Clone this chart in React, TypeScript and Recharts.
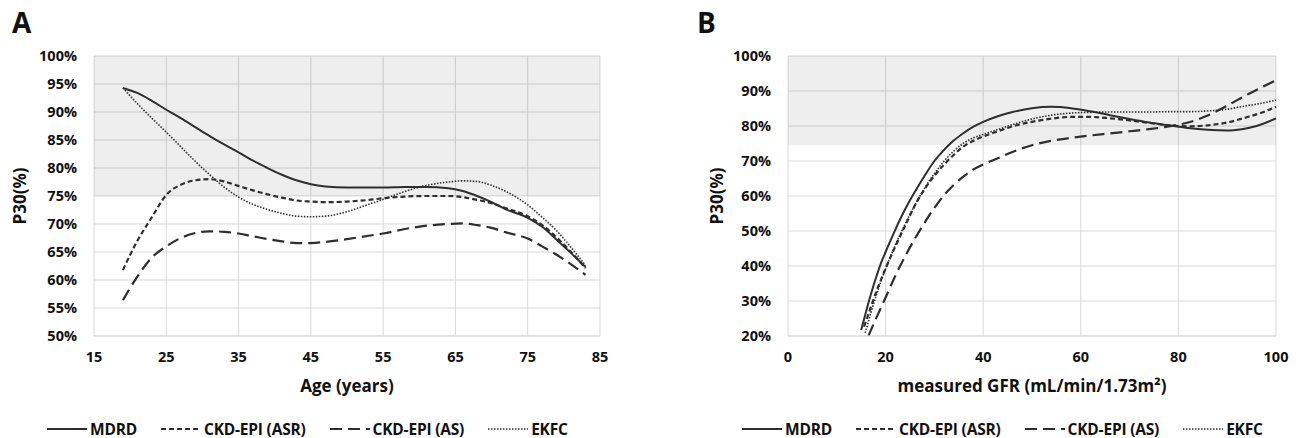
import React from 'react';
import { LineChart, Line, XAxis, YAxis, CartesianGrid, ReferenceArea } from 'recharts';

// Panel A: P30 by age
const ages = [19, 21, 23, 25, 27, 29, 31, 33, 35, 37, 39, 41, 43, 45, 47, 50, 53, 55, 58, 61, 64, 66, 68, 70, 72, 75, 77, 79, 81, 83];
const ageMdrd = [94.3, 93.4, 92.0, 90.4, 88.9, 87.3, 85.7, 84.2, 82.8, 81.3, 80.0, 78.8, 77.8, 77.1, 76.7, 76.5, 76.5, 76.5, 76.6, 76.6, 76.4, 75.9, 75.0, 73.9, 72.6, 71.1, 69.5, 67.2, 64.8, 62.3];
const ageAsr = [61.8, 67.0, 71.2, 75.2, 77.0, 77.8, 78.0, 77.6, 76.8, 76.0, 75.3, 74.7, 74.2, 74.0, 73.9, 74.0, 74.3, 74.6, 74.9, 75.0, 75.0, 74.8, 74.3, 73.7, 72.8, 71.4, 69.8, 67.6, 65.0, 62.1];
const ageAs = [56.4, 60.6, 64.0, 66.0, 67.5, 68.4, 68.7, 68.6, 68.3, 67.8, 67.3, 66.9, 66.6, 66.6, 66.8, 67.3, 67.9, 68.3, 69.1, 69.7, 70.0, 70.1, 69.8, 69.3, 68.5, 67.4, 66.0, 64.5, 62.8, 60.9];
const ageEkfc = [94.3, 91.5, 88.9, 86.4, 83.8, 81.2, 78.8, 76.6, 74.8, 73.5, 72.6, 71.9, 71.4, 71.3, 71.4, 72.2, 73.5, 74.4, 75.8, 76.9, 77.5, 77.7, 77.6, 76.9, 75.8, 73.4, 71.2, 68.8, 65.8, 62.6];
const ageTicks = [15, 25, 35, 45, 55, 65, 75, 85];
const ageP30Ticks = [50, 55, 60, 65, 70, 75, 80, 85, 90, 95, 100];

// Panel B: P30 by measured GFR, [gfr, p30]
const gfrMdrd = [[15, 21.7], [16, 27.0], [17, 32.0], [18, 36.5], [19, 40.6], [20, 44.0], [22, 50.4], [24, 56.2], [26, 61.2], [28, 65.8], [30, 70.0], [32, 73.2], [34, 75.9], [36, 78.0], [38, 79.8], [40, 81.2], [43, 82.8], [46, 84.0], [50, 85.1], [54, 85.5], [58, 85.1], [62, 84.2], [66, 83.1], [70, 82.0], [74, 81.0], [78, 80.2], [82, 79.4], [86, 78.9], [90, 78.7], [93, 79.1], [96, 80.0], [100, 82.2]];
const gfrAsr = [[15.6, 22.7], [16, 24.3], [17, 28.4], [18, 32.3], [19, 35.9], [20, 39.3], [22, 45.6], [24, 51.5], [26, 57.3], [28, 62.0], [30, 65.8], [32, 69.0], [34, 71.8], [36, 74.2], [38, 75.8], [40, 77.0], [43, 78.5], [46, 79.9], [50, 81.2], [54, 82.1], [58, 82.6], [62, 82.6], [66, 82.2], [70, 81.6], [74, 80.9], [78, 80.2], [82, 79.9], [86, 80.2], [90, 81.0], [94, 82.5], [97, 83.8], [100, 85.5]];
const gfrAs = [[16.5, 20.1], [17.5, 23.3], [18.5, 26.4], [20, 31.0], [22, 37.2], [24, 42.8], [26, 47.8], [28, 52.4], [30, 56.6], [32, 60.3], [34, 63.2], [36, 65.6], [38, 67.6], [40, 69.0], [43, 70.8], [46, 72.6], [50, 74.5], [54, 75.8], [58, 76.6], [62, 77.3], [66, 77.9], [70, 78.5], [74, 79.1], [78, 79.9], [82, 81.0], [86, 83.0], [90, 85.8], [94, 88.9], [97, 91.0], [100, 93.1]];
const gfrEkfc = [[15.8, 20.9], [16, 21.8], [17, 26.7], [18, 31.2], [19, 35.4], [20, 39.2], [22, 46.0], [24, 52.0], [26, 57.4], [28, 62.2], [30, 66.4], [32, 70.0], [34, 72.9], [36, 75.1], [38, 76.6], [40, 77.6], [43, 79.0], [46, 80.4], [50, 82.0], [54, 83.1], [58, 83.7], [62, 83.9], [66, 84.0], [70, 84.0], [74, 84.0], [78, 84.1], [82, 84.1], [86, 84.3], [90, 84.8], [94, 85.8], [97, 86.5], [100, 87.4]];
const gfrTicks = [0, 20, 40, 60, 80, 100];
const gfrP30Ticks = [20, 30, 40, 50, 60, 70, 80, 90, 100];

const seriesNames = ['MDRD', 'CKD-EPI (ASR)', 'CKD-EPI (AS)', 'EKFC'];

const ageTable = ages.map((age, i) => ({
  age,
  mdrd: ageMdrd[i],
  asr: ageAsr[i],
  as: ageAs[i],
  ekfc: ageEkfc[i],
}));

const toPoints = (pts: number[][]) => pts.map(([x, y]) => ({ x, y }));

const LINE = '#2e2e2e';
const GRID = '#d9d9d9';

const lineStyles = [
  { stroke: LINE, strokeWidth: 2 },
  { stroke: LINE, strokeWidth: 2.2, strokeDasharray: '5 3' },
  { stroke: LINE, strokeWidth: 2.2, strokeDasharray: '12 6' },
  { stroke: LINE, strokeWidth: 1.6, strokeDasharray: '1.5 1.5' },
];

const tickStyle = { fill: '#111', fontSize: 14.5, fontWeight: 700 };
const pct = (v: number) => `${v}%`;

function Legend({ left }: { left: number }) {
  return (
    <div style={{ position: 'absolute', left, top: 421, height: 16, lineHeight: '16px', display: 'flex', alignItems: 'center', gap: 24, fontSize: 15.5, fontWeight: 700, whiteSpace: 'nowrap', letterSpacing: -0.2 }}>
      {seriesNames.map((name, i) => (
        <div key={name} style={{ display: 'flex', alignItems: 'center', gap: 3 }}>
          <svg width={40} height={6}>
            <line x1={0} y1={3} x2={40} y2={3} {...lineStyles[i]} />
          </svg>
          <span>{name}</span>
        </div>
      ))}
    </div>
  );
}

function PanelLabel({ text, left }: { text: string; left: number }) {
  return (
    <div style={{ position: 'absolute', left, top: 8, fontSize: 28, fontWeight: 700, lineHeight: '28px' }}>{text}</div>
  );
}

function AgeChart() {
  return (
    <LineChart width={640} height={438} data={ageTable} margin={{ top: 56, right: 40, bottom: 42, left: 0 }}>
      <ReferenceArea y1={75} y2={100} fill="#000" fillOpacity={0.065} stroke="none" />
      <CartesianGrid stroke={GRID} />
      <XAxis
        dataKey="age"
        type="number"
        domain={[15, 85]}
        ticks={ageTicks}
        height={60}
        axisLine={{ stroke: GRID }}
        tickLine={false}
        tickSize={0}
        tickMargin={16}
        tick={tickStyle}
        label={{ value: 'Age (years)', position: 'insideBottom', offset: 4, fill: '#111', fontSize: 17, fontWeight: 700 }}
      />
      <YAxis
        type="number"
        domain={[50, 100]}
        ticks={ageP30Ticks}
        width={94}
        axisLine={false}
        tickLine={false}
        tickSize={0}
        tickMargin={17}
        tick={tickStyle}
        tickFormatter={pct}
        label={{ value: 'P30(%)', angle: -90, position: 'insideLeft', offset: 20, fill: '#111', fontSize: 17, fontWeight: 700, style: { textAnchor: 'middle' } }}
      />
      {['mdrd', 'asr', 'as', 'ekfc'].map((key, i) => (
        <Line key={key} dataKey={key} name={seriesNames[i]} type="monotone" dot={false} isAnimationActive={false} {...lineStyles[i]} />
      ))}
    </LineChart>
  );
}

function GfrChart() {
  const series = [gfrMdrd, gfrAsr, gfrAs, gfrEkfc];
  return (
    <LineChart width={664} height={438} margin={{ top: 56, right: 28, bottom: 42, left: 0 }}>
      <ReferenceArea y1={74.5} y2={100} fill="#000" fillOpacity={0.065} stroke="none" />
      <CartesianGrid stroke={GRID} />
      <XAxis
        dataKey="x"
        type="number"
        domain={[0, 100]}
        ticks={gfrTicks}
        height={60}
        axisLine={{ stroke: GRID }}
        tickLine={false}
        tickSize={0}
        tickMargin={16}
        tick={tickStyle}
        label={{ value: 'measured GFR (mL/min/1.73m²)', position: 'insideBottom', offset: 4, fill: '#111', fontSize: 17, fontWeight: 700 }}
      />
      <YAxis
        type="number"
        domain={[20, 100]}
        ticks={gfrP30Ticks}
        width={148}
        axisLine={false}
        tickLine={false}
        tickSize={0}
        tickMargin={17}
        tick={tickStyle}
        tickFormatter={pct}
        label={{ value: 'P30(%)', angle: -90, position: 'insideLeft', offset: 77, fill: '#111', fontSize: 17, fontWeight: 700, style: { textAnchor: 'middle' } }}
      />
      {series.map((pts, i) => (
        <Line key={seriesNames[i]} data={toPoints(pts)} dataKey="y" name={seriesNames[i]} type="monotone" dot={false} isAnimationActive={false} {...lineStyles[i]} />
      ))}
    </LineChart>
  );
}

export default function App() {
  return (
    <div style={{ position: 'absolute', left: 0, top: 0, width: 1304, height: 438, background: '#fff', fontFamily: '"Open Sans", sans-serif', color: '#111' }}>
      <PanelLabel text="A" left={12} />
      <PanelLabel text="B" left={697} />
      <div style={{ position: 'absolute', left: 0, top: 0 }}>
        <AgeChart />
      </div>
      <div style={{ position: 'absolute', left: 640, top: 0 }}>
        <GfrChart />
      </div>
      <Legend left={47} />
      <Legend left={742} />
    </div>
  );
}
